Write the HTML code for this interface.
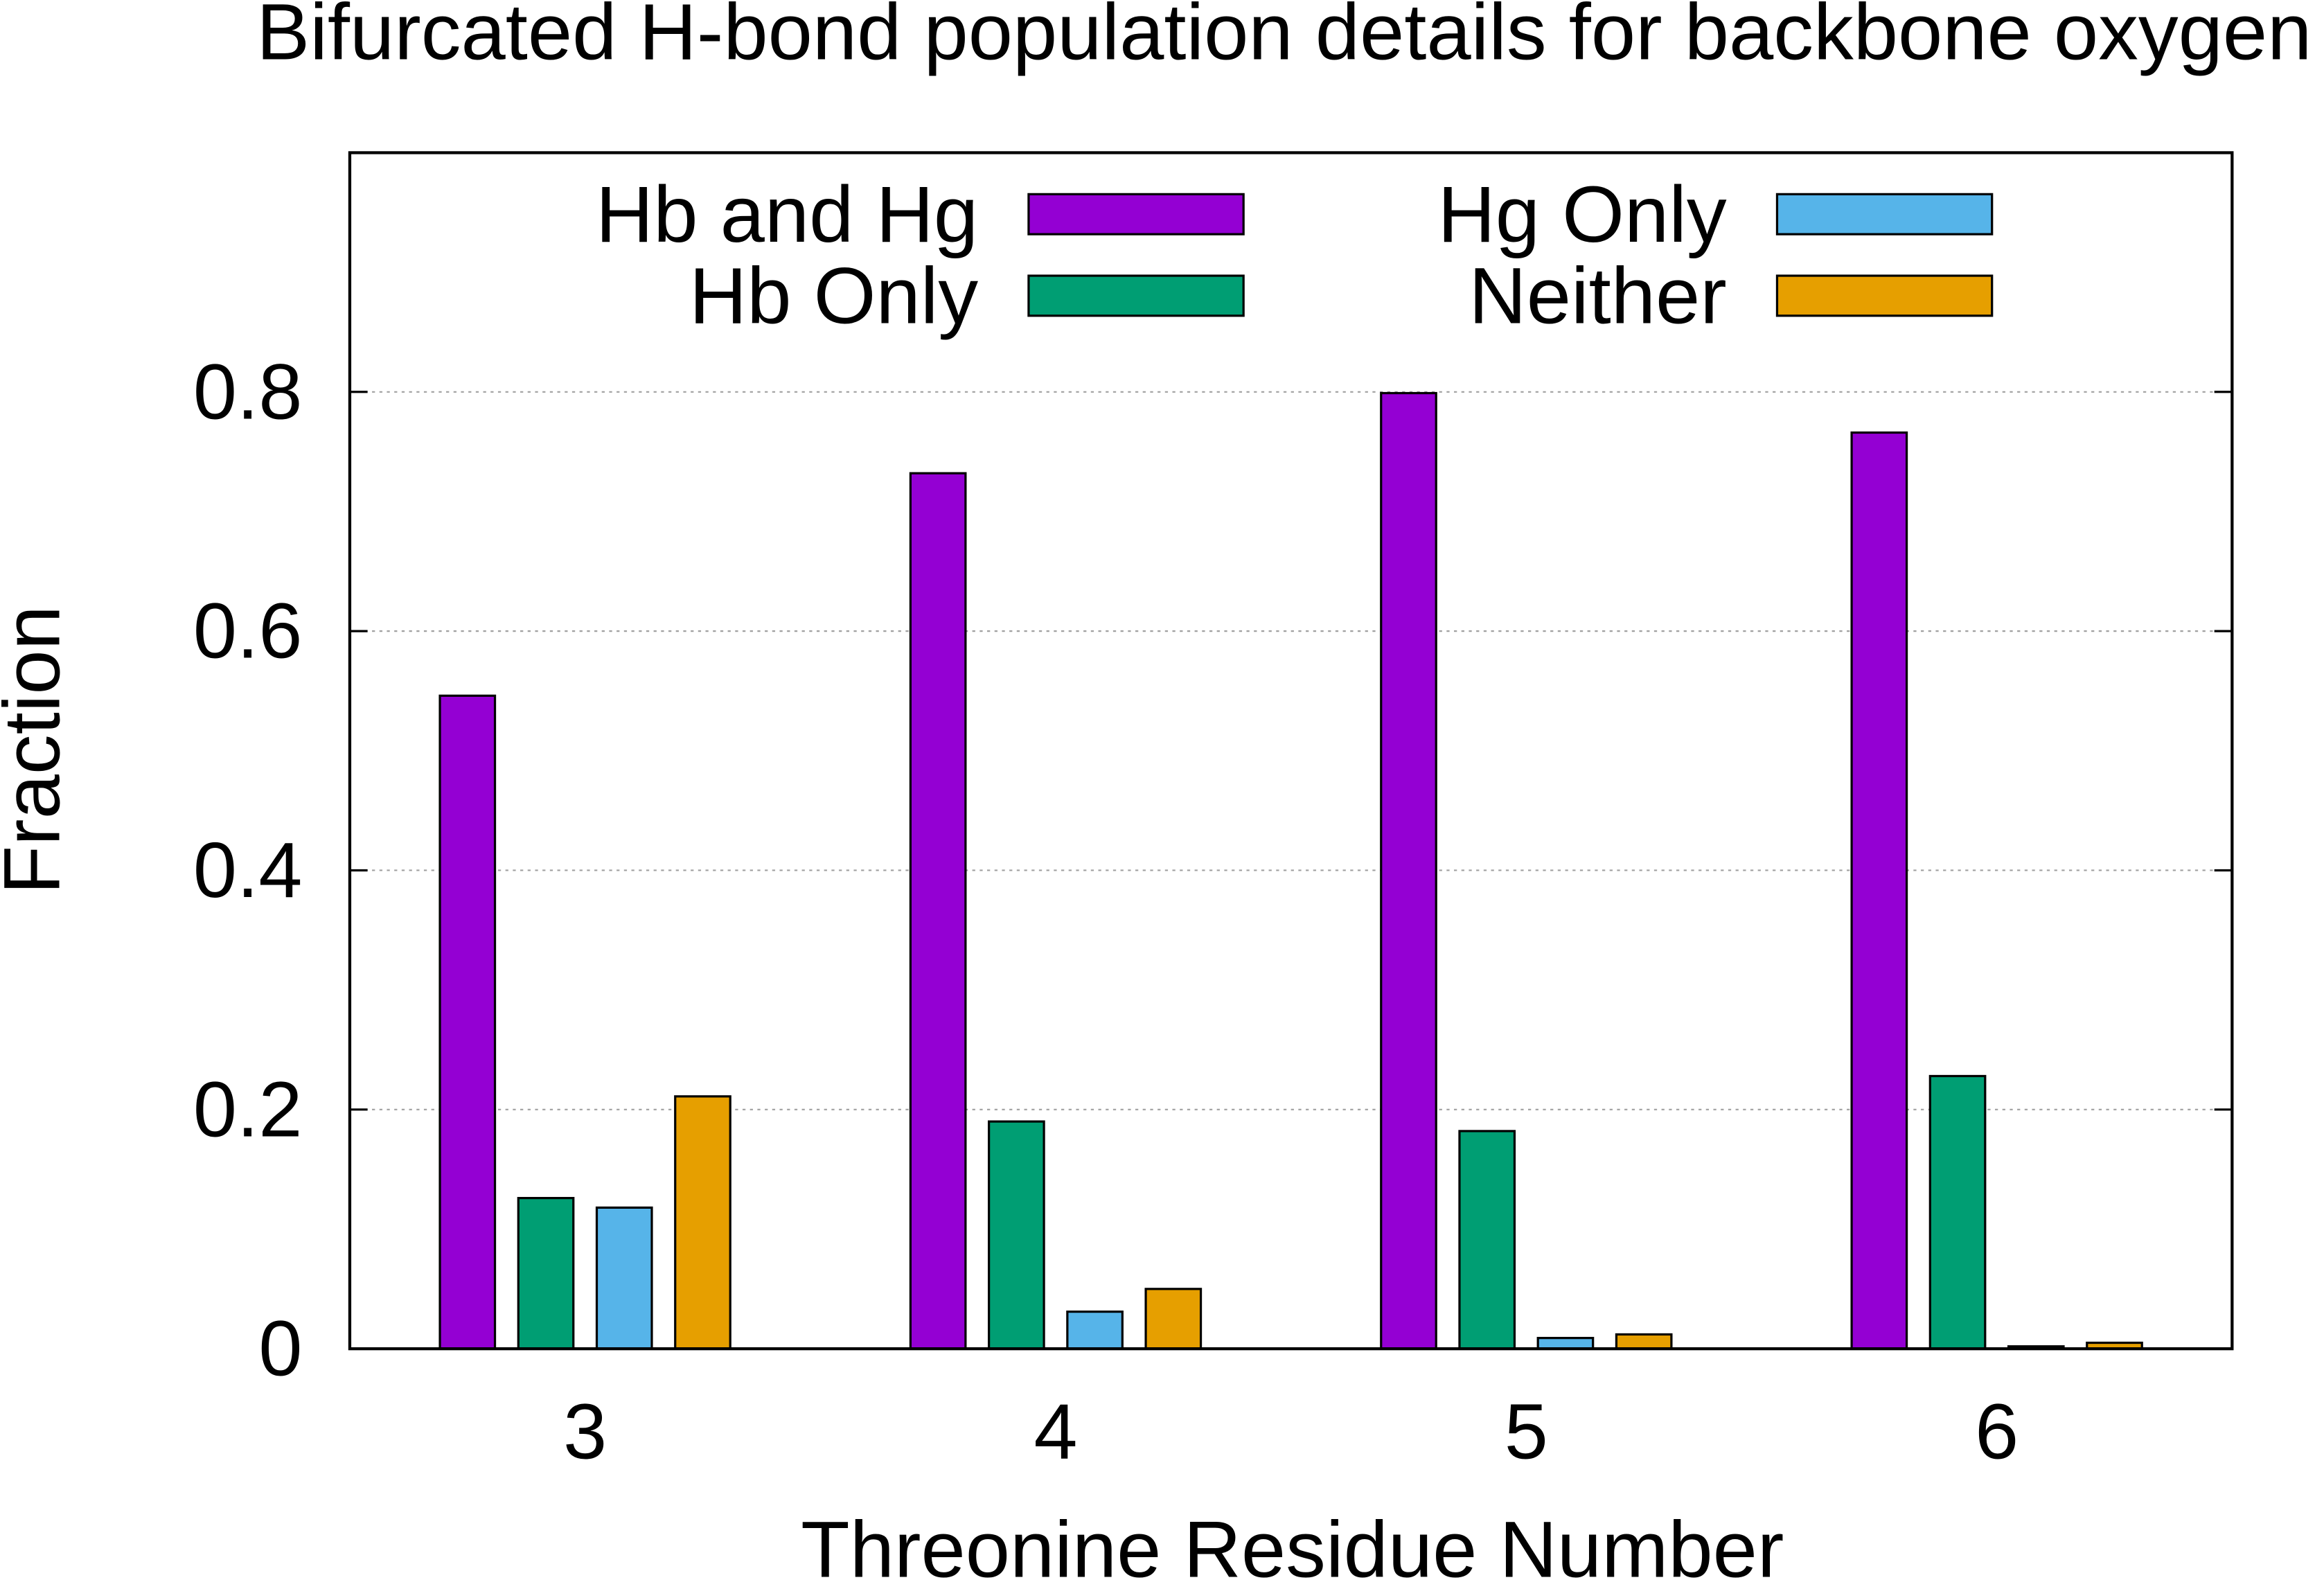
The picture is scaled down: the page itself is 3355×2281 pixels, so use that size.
<!DOCTYPE html>
<html><head><meta charset="utf-8"><style>
html,body{margin:0;padding:0;background:#fff;}
svg{display:block;font-family:"Liberation Sans",sans-serif;}
</style></head><body>
<svg id="chart" width="3355" height="2281" viewBox="0 0 1568 1066" xmlns="http://www.w3.org/2000/svg">
<rect width="1568" height="1066" fill="#fff"/>
<text x="173" y="40" font-size="54">Bifurcated H-bond population details for backbone oxygen</text>
<g id="grid"></g>
<g id="bars"></g>
<rect x="236" y="103" width="1270" height="807" fill="none" stroke="#000" stroke-width="2"/>
<g id="ticks"></g>
<text transform="translate(40,506) rotate(-90)" text-anchor="middle" font-size="54">Fraction</text>
<text x="872" y="1064" text-anchor="middle" font-size="54">Threonine Residue Number</text>
<g id="legend">
<text x="660" y="163" text-anchor="end" font-size="54">Hb and Hg</text>
<rect x="694" y="131" width="145" height="27" fill="#9400d3" stroke="#000" stroke-width="1.5"/>
<text x="660" y="218" text-anchor="end" font-size="54">Hb Only</text>
<rect x="694" y="186" width="145" height="27" fill="#009e73" stroke="#000" stroke-width="1.5"/>
<text x="1165" y="163" text-anchor="end" font-size="54">Hg Only</text>
<rect x="1199" y="131" width="145" height="27" fill="#56b4e9" stroke="#000" stroke-width="1.5"/>
<text x="1165" y="218" text-anchor="end" font-size="54">Neither</text>
<rect x="1199" y="186" width="145" height="27" fill="#e69f00" stroke="#000" stroke-width="1.5"/>
</g>
</svg>
<script>
const categories = [3, 4, 5, 6];
const hbAndHg = [0.546, 0.732, 0.799, 0.766];
const hbOnly = [0.126, 0.19, 0.182, 0.228];
const hgOnly = [0.118, 0.031, 0.009, 0.002];
const neither = [0.211, 0.05, 0.012, 0.005];
const yTicks = [0, 0.2, 0.4, 0.6, 0.8];
const yTickLabels = ["0", "0.2", "0.4", "0.6", "0.8"];

const NS = "http://www.w3.org/2000/svg";
const X0 = 236, X1 = 1506, Y0 = 910, Y1 = 103;
const xMin = 2.5, xMax = 6.5, yMin = 0, yMax = 1.0;
function xs(v){ return X0 + (v - xMin) / (xMax - xMin) * (X1 - X0); }
function ys(v){ return Y0 - (v - yMin) / (yMax - yMin) * (Y0 - Y1); }
function mk(tag, attrs, parent){ const e = document.createElementNS(NS, tag); for (const k in attrs) e.setAttribute(k, attrs[k]); parent.appendChild(e); return e; }

const grid = document.getElementById('grid');
const ticks = document.getElementById('ticks');
yTicks.forEach((t, i) => {
  const y = ys(t);
  if (t > 0) {
    const g = mk('line', {x1: X0, x2: X1, y1: y, y2: y, stroke: '#a0a0a0', 'stroke-width': 1, 'stroke-dasharray': '2,3'}, grid);
    
    
  }
  const l1 = mk('line', {x1: X0, x2: X0 + 12, y1: y, y2: y, stroke: '#000', 'stroke-width': 1.5}, ticks);
  
  
  const l2 = mk('line', {x1: X1 - 12, x2: X1, y1: y, y2: y, stroke: '#000', 'stroke-width': 1.5}, ticks);
  
  
  const tx = mk('text', {x: 204, y: y + 18, 'text-anchor': 'end', 'font-size': 53}, ticks);
  tx.textContent = yTickLabels[i];
  
  
});
categories.forEach(c => {
  const x = xs(c);
  const tx = mk('text', {x: x, y: 984, 'text-anchor': 'middle', 'font-size': 53}, ticks);
  tx.textContent = String(c);
  
  
});

const series = [
  {vals: hbAndHg, color: '#9400d3', name: 'hb-and-hg'},
  {vals: hbOnly, color: '#009e73', name: 'hb-only'},
  {vals: hgOnly, color: '#56b4e9', name: 'hg-only'},
  {vals: neither, color: '#e69f00', name: 'neither'}
];
const bars = document.getElementById('bars');
const step = 1/6, bw = 0.117;
series.forEach((s, si) => {
  s.vals.forEach((v, ci) => {
    const cx = categories[ci] + (si - 1.5) * step;
    const xl = xs(cx - bw/2), xr = xs(cx + bw/2);
    const yt = ys(v);
    const r = mk('rect', {x: xl, y: yt, width: xr - xl, height: Math.max(ys(0) - yt, 0), fill: s.color, stroke: '#000', 'stroke-width': 1.5}, bars);
    
    
  });
});
</script>
</body></html>
